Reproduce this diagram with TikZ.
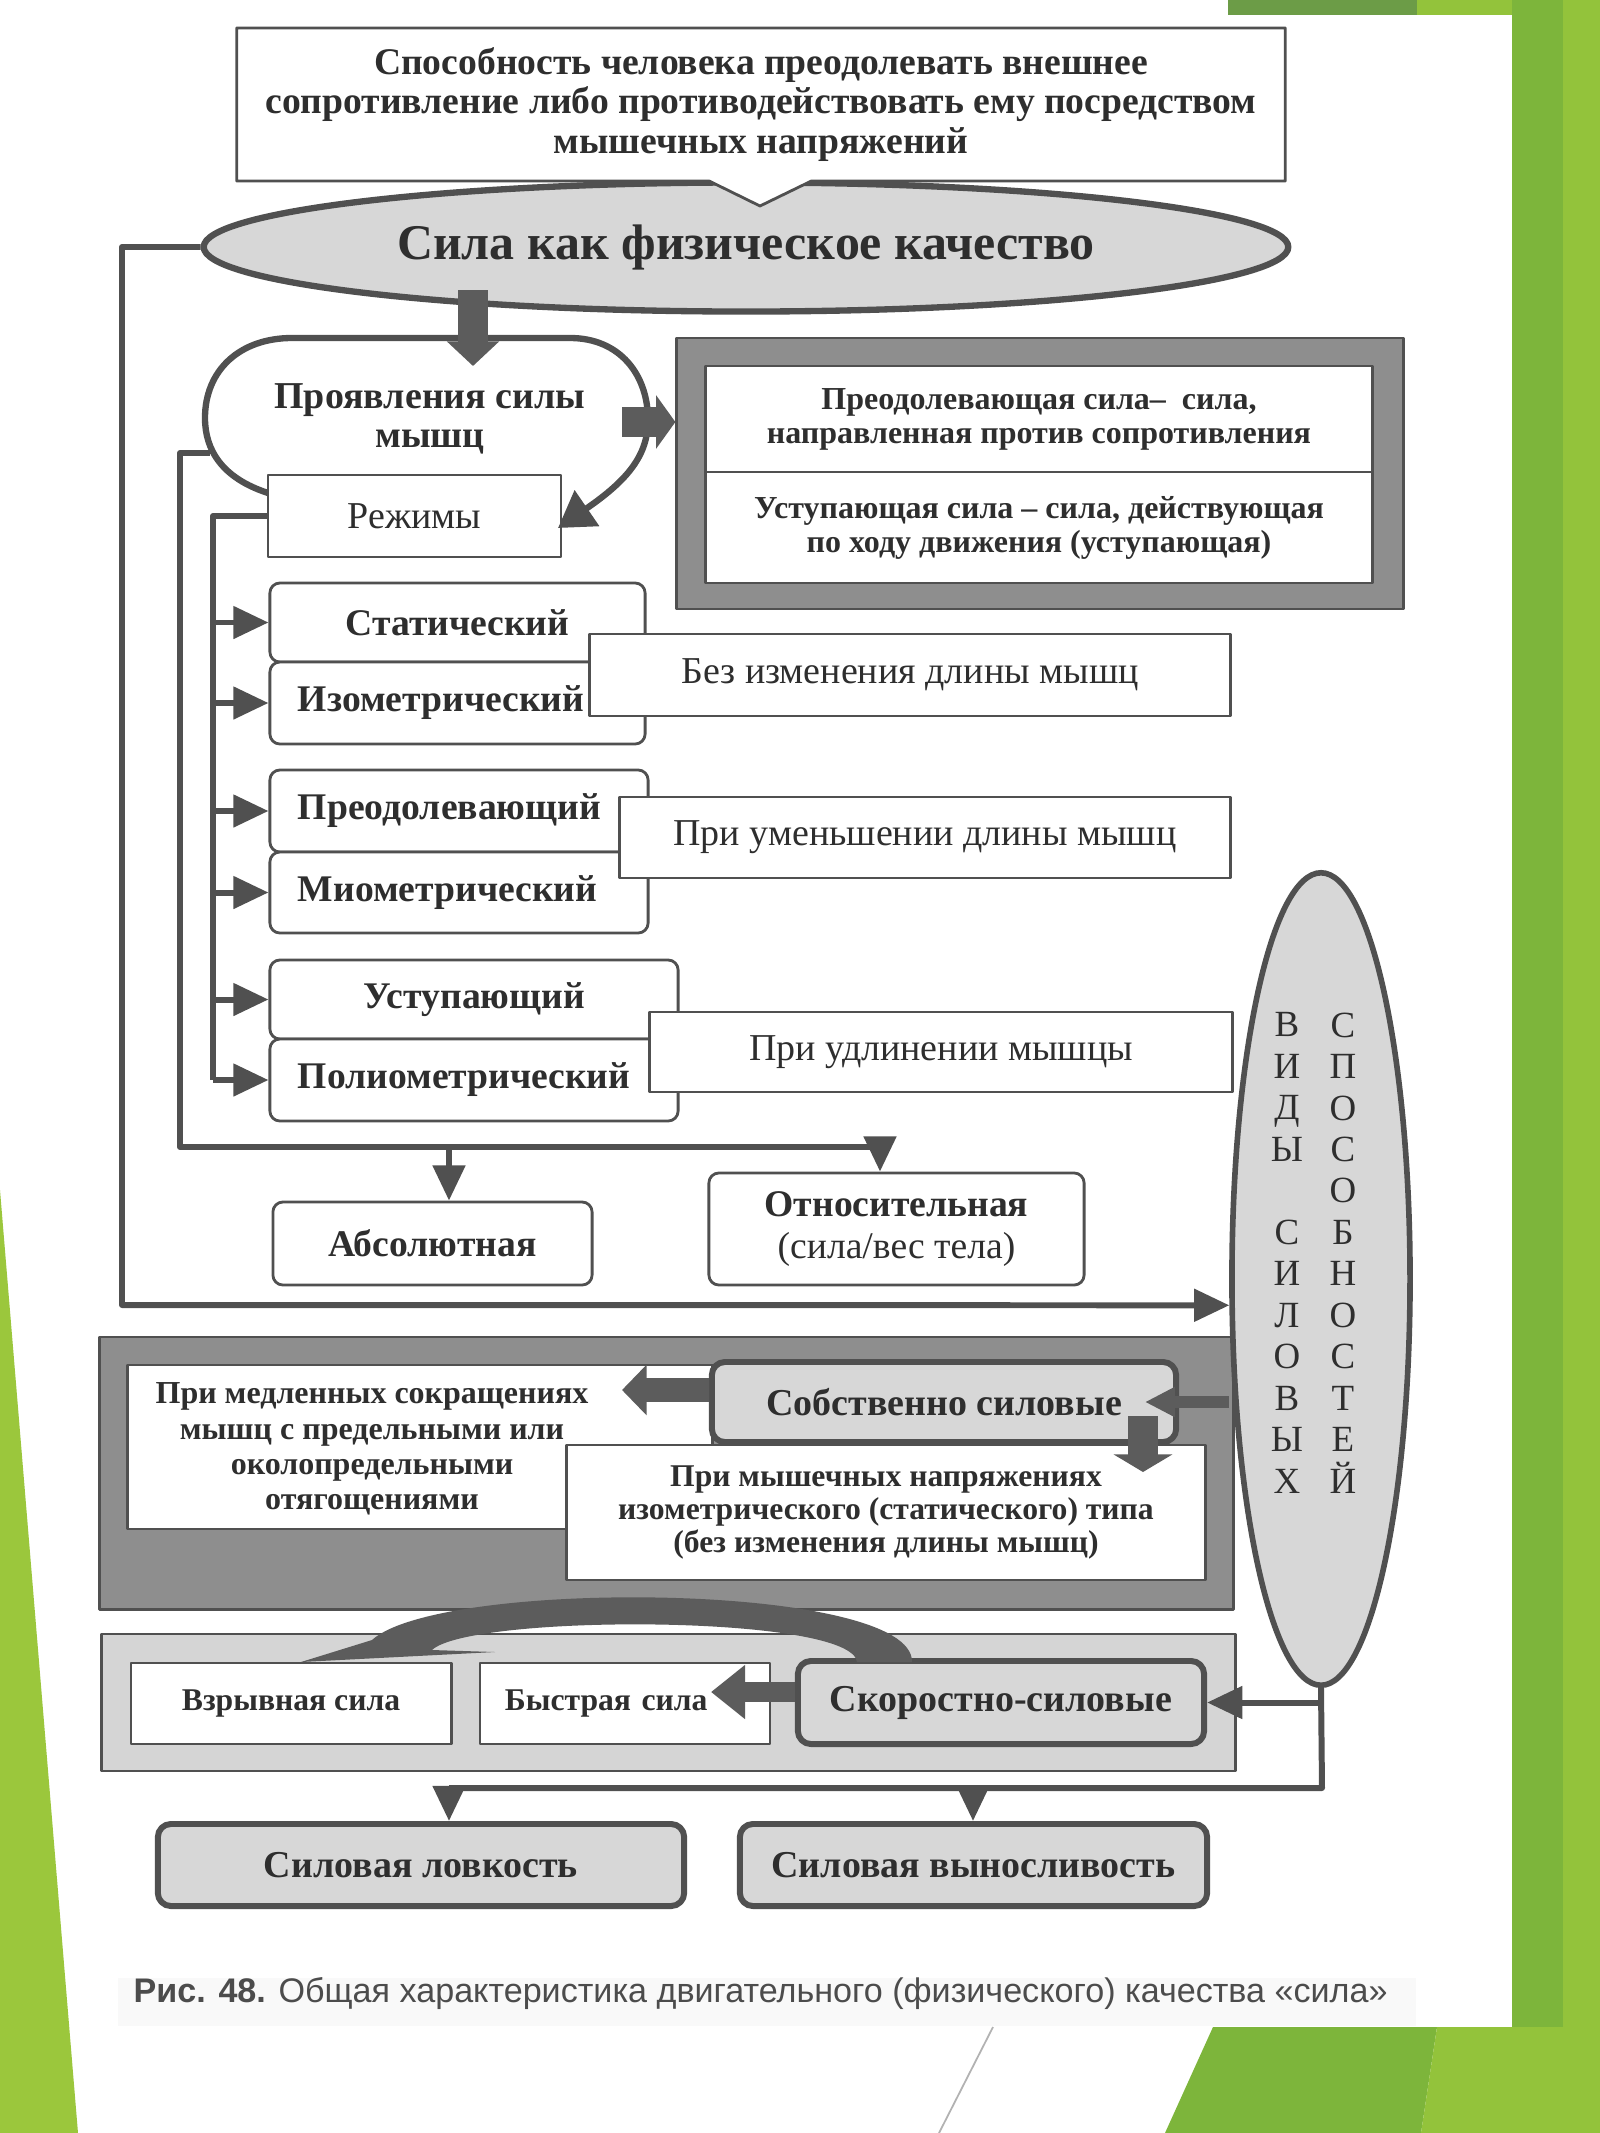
\documentclass[tikz,border=0pt]{standalone}
\usepackage{fontspec}
\setmainfont{Liberation Serif}
\newfontfamily\capfamily{Liberation Sans}
\usetikzlibrary{arrows.meta,shapes.geometric,shapes.callouts}

\definecolor{linegray}{HTML}{505050}
\definecolor{arrgray}{HTML}{5C5C5C}
\definecolor{txtgray}{HTML}{2E2E2E}
\definecolor{boxgray}{HTML}{D7D7D7}
\definecolor{panelgray}{HTML}{8E8E8E}
\definecolor{lightpanel}{HTML}{D5D5D5}
\definecolor{grassdark}{HTML}{6C9C47}
\definecolor{grassmid}{HTML}{7DB53B}
\definecolor{grasslight}{HTML}{93C33B}
\definecolor{grassleft}{HTML}{9BC73C}

\newcommand\fHead{\fontsize{10.7}{11.2}\selectfont\bfseries}
\newcommand\fTitle{\fontsize{14.2}{16}\selectfont\bfseries}
\newcommand\fBig{\fontsize{10.8}{10.9}\selectfont\bfseries}
\newcommand\fSmall{\fontsize{9.1}{9.7}\selectfont\bfseries}
\newcommand\fMode{\fontsize{10.7}{12}\selectfont\bfseries}
\newcommand\fGray{\fontsize{10.8}{12}\selectfont\bfseries}
\newcommand\fPlain{\fontsize{10.8}{12}\selectfont}
\newcommand\fVert{\fontsize{10.5}{11.8}\selectfont}
\newcommand\fSlow{\fontsize{9.1}{10}\selectfont\bfseries}
\newcommand\fIso{\fontsize{9}{9.4}\selectfont\bfseries}
\newcommand\fSpeed{\fontsize{9}{10}\selectfont\bfseries}
\newcommand\fCap{\fontsize{9.7}{12}\selectfont}

\begin{document}
\begin{tikzpicture}[x=0.01cm, y=-0.01cm, line join=round,
  every node/.style={text=txtgray},
  thinbox/.style={draw=linegray, line width=0.8pt, fill=white, inner sep=0pt, align=center},
  modebox/.style={thinbox, rounded corners=0.1cm, font=\fMode},
  graybox/.style={draw=linegray, line width=1.7pt, fill=boxgray, rounded corners=0.13cm, inner sep=0pt, align=center, font=\fGray},
  conn/.style={draw=linegray, line width=1.7pt},
  headtip/.style={-{Triangle[length=10pt, width=9pt]}},
  blockarr/.style={draw=arrgray, line width=#1}]

\useasboundingbox (0,0) rectangle (1600,2133);

% Draw page and green frame
\fill[white] (0,0) rectangle (1600,2133);
\fill[grassdark] (1228,0) rectangle (1417,15);
\fill[grasslight] (1417,0) rectangle (1512,15);
\fill[grassmid] (1512,0) rectangle (1563,2027);
\fill[grasslight] (1563,0) rectangle (1600,2133);
\fill[grassmid] (1213,2027) -- (1437,2027) -- (1421,2133) -- (1165,2133) -- cycle;
\fill[grasslight] (1437,2027) -- (1563,2027) -- (1563,2133) -- (1421,2133) -- cycle;
\fill[grassleft] (0,1190) -- (78,2133) -- (0,2133) -- cycle;
\draw[gray!60, line width=0.5pt] (993,2027) -- (939,2133);

% Draw main ellipse and definition
\node[draw=linegray, line width=1.8pt, fill=boxgray, ellipse, minimum width=10.84cm, minimum height=1.29cm, inner sep=0pt, font=\fTitle] (quality) at (746,247) {Сила как физическое качество};
\coordinate (calltip) at (760,206);
\node[thinbox, rectangle callout, callout absolute pointer={(calltip)}, callout pointer width=1.02cm, minimum width=10.48cm, minimum height=1.53cm, font=\fHead] (defn) at (761,104.5) {Способность человека преодолевать внешнее\\сопротивление либо противодействовать ему посредством\\мышечных напряжений};

% Draw force direction group
\node[draw=linegray, line width=0.8pt, fill=panelgray, minimum width=7.26cm, minimum height=2.71cm] (forcegrp) at (1040,473.5) {};
\node[thinbox, minimum width=6.66cm, minimum height=1.06cm, font=\fSmall] (overc) at (1039,419) {Преодолевающая сила–\ \ сила,\\направленная против сопротивления};
\node[thinbox, minimum width=6.66cm, minimum height=1.11cm, font=\fSmall] (yield) at (1039,527.5) {Уступающая сила – сила, действующая\\по ходу движения (уступающая)};

% Draw muscle force loop with modes
\node[thinbox, minimum width=2.93cm, minimum height=0.82cm, font=\fPlain] (modes) at (414.5,516) {Режимы};
\draw[draw=linegray, line width=1.8pt, -{Triangle[length=10pt, width=12pt]}] (268,493) .. controls (222,478) and (205,450) .. (205,418) .. controls (205,370) and (240,338) .. (292,338) -- (570,338) .. controls (620,338) and (648,375) .. (648,420) .. controls (648,455) and (628,480) .. (558,528);
\node[font=\fBig, align=center] (manif) at (430,419) {Проявления силы\\мышц};

\coordinate (qa) at (473,290);
\coordinate (qb) at (473,366);
\draw[blockarr=8.3pt, -{Triangle[length=7pt, width=14.5pt]}] (qa) -- (qb);
\coordinate (ma) at (622,422);
\draw[blockarr=8.5pt, -{Triangle[length=5.5pt, width=15pt]}] (ma) -- (ma -| forcegrp.west);

% Draw mode boxes
\node[modebox, minimum width=3.75cm, minimum height=0.79cm] (stat) at (457.5,622.5) {Статический};
\node[modebox, minimum width=3.75cm, minimum height=0.82cm, text width=3.19cm, align=left] (isom) at (457.5,703) {Изометрический};
\node[modebox, minimum width=3.78cm, minimum height=0.82cm, text width=3.22cm, align=left] (overm) at (459,811) {Преодолевающий};
\node[modebox, minimum width=3.78cm, minimum height=0.81cm, text width=3.22cm, align=left] (miom) at (459,892.5) {Миометрический};
\node[modebox, minimum width=4.08cm, minimum height=0.79cm] (yieldm) at (474,999.5) {Уступающий};
\node[modebox, minimum width=4.08cm, minimum height=0.82cm, text width=3.52cm, align=left] (poly) at (474,1080) {Полиометрический};

\node[thinbox, minimum width=6.4cm, minimum height=0.82cm, font=\fPlain] (lenzero) at (910,675) {Без изменения длины мышц};
\node[thinbox, minimum width=6.1cm, minimum height=0.81cm, font=\fPlain] (lenless) at (925,837.5) {При уменьшении длины мышц};
\node[thinbox, minimum width=5.82cm, minimum height=0.8cm, font=\fPlain] (lenmore) at (941,1052) {При удлинении мышцы};

% Draw mode arrows
\coordinate (rb) at (213,1080);
\draw[conn] (modes.west) -| (rb);
\foreach \m in {stat,isom,overm,miom,yieldm,poly}
  \draw[conn, headtip] (rb |- \m.west) -- (\m.west);

% Draw absolute and relative force
\node[modebox, minimum width=3.19cm, minimum height=0.83cm] (absf) at (432.5,1243.5) {Абсолютная};
\node[modebox, minimum width=3.75cm, minimum height=1.12cm] (relf) at (896.5,1229) {Относительная\\{\mdseries (сила/вес тела)}};
\coordinate (ra0) at (210,453);
\coordinate (ra1) at (180,1147);
\coordinate (ra2) at (880,1147);
\coordinate (ra3) at (449,1147);
\draw[conn] (ra0) -| (ra1) -- (ra2);
\draw[conn, headtip] (ra2) -- (ra2 |- relf.north);
\draw[conn, headtip] (ra3) -- (ra3 |- absf.north);

% Draw strength panel
\node[draw=linegray, line width=0.8pt, fill=panelgray, minimum width=11.33cm, minimum height=2.72cm] (strgrp) at (666.5,1473) {};
\node[thinbox, minimum width=5.84cm, minimum height=1.64cm] (slow) at (420,1447) {};
\node[font=\fSlow, align=center] (slowtext) at (372,1449) {При медленных сокращениях\\мышц с предельными или\\околопредельными\\отягощениями};
\node[graybox, minimum width=4.64cm, minimum height=0.8cm] (ownf) at (944,1402) {Собственно силовые};
\node[thinbox, minimum width=6.38cm, minimum height=1.35cm, font=\fIso] (isotype) at (886,1512.5) {При мышечных напряжениях\\изометрического (статического) типа\\(без изменения длины мышц)};

% Draw speed panel
\node[draw=linegray, line width=0.8pt, fill=lightpanel, minimum width=11.33cm, minimum height=1.37cm] (spdgrp) at (668.5,1702.5) {};
\node[thinbox, minimum width=3.2cm, minimum height=0.81cm, font=\fSpeed] (expl) at (291,1703.5) {Взрывная сила};
\node[thinbox, minimum width=2.9cm, minimum height=0.81cm, text width=2.4cm, align=left, font=\fSpeed] (fast) at (625,1703.5) {Быстрая сила};
\node[graybox, minimum width=4.06cm, minimum height=0.83cm] (speedf) at (1001,1702.5) {Скоростно-силовые};
\fill[arrgray] (912,1662) .. controls (914,1582) and (440,1578) .. (372,1640) -- (301,1662) -- (495,1652) -- (432,1650) .. controls (470,1614) and (852,1614) .. (857,1662) -- cycle;

% Draw bottom boxes
\node[graybox, minimum width=5.26cm, minimum height=0.82cm] (agil) at (421,1865) {Силовая ловкость};
\node[graybox, minimum width=4.67cm, minimum height=0.82cm] (endur) at (973.5,1865) {Силовая выносливость};

% Draw kinds ellipse
\node[draw=linegray, line width=1.6pt, fill=boxgray, ellipse, minimum width=1.78cm, minimum height=8.12cm, inner sep=0pt] (kinds) at (1321,1279) {};
\node[font=\fVert, align=center] (kindsa) at (1287,1253) {В\\И\\Д\\Ы\\\mbox{}\\С\\И\\Л\\О\\В\\Ы\\Х};
\node[font=\fVert, align=center] (kindsb) at (1343,1253) {С\\П\\О\\С\\О\\Б\\Н\\О\\С\\Т\\Е\\Й};

% Draw long rail from main ellipse
\coordinate (lr) at (122,1305);
\draw[conn, headtip] (quality.west) -| (lr) -- (kinds.196);

% Draw arrows of the strength panel
\coordinate (st) at (622,1390);
\draw[blockarr=7pt, -{Triangle[length=7pt, width=14pt]}] (ownf.west |- st) -- (st);
\coordinate (odtop) at (1143,1416);
\coordinate (od) at (1143,1472);
\draw[blockarr=8.3pt, -{Triangle[length=5pt, width=16.5pt]}] (odtop) -- (od);
\coordinate (ot) at (1145,1402);
\draw[blockarr=3.4pt, -{Triangle[length=8.5pt, width=8pt]}] (kinds.west |- ot) -- (ot);

% Draw arrows of the speed panel
\coordinate (ft) at (711,1692);
\draw[blockarr=5.7pt, -{Triangle[length=9.7pt, width=14.8pt]}] (speedf.west |- ft) -- (ft);
\coordinate (kb1) at (1322,1788);
\coordinate (kb3) at (449,1788);
\coordinate (kb4) at (973,1788);
\draw[conn] (kinds.south) -- (kb1) -- (kb3);
\draw[conn, headtip] (kinds.south |- speedf.east) -- (speedf.east);
\draw[conn, headtip] (kb3) -- (kb3 |- agil.north);
\draw[conn, headtip] (kb4) -- (kb4 |- endur.north);

% Draw caption
\fill[gray!5] (118,1978) rectangle (1416,2026);
\node[anchor=west, font=\capfamily\fCap, text=black!70, inner sep=0pt] (capt) at (133,1994) {\textbf{Рис. 48.} Общая характеристика двигательного (физического) качества «сила»};

\end{tikzpicture}
\end{document}
